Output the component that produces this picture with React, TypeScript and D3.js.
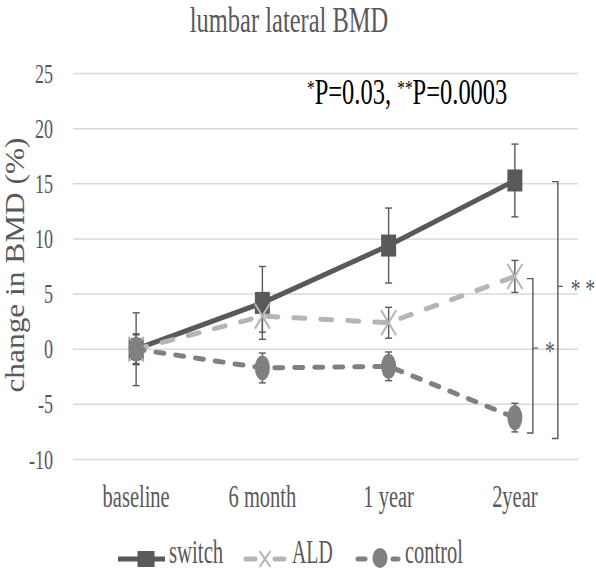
import React from "react";
import * as d3 from "d3";

const categories = ["baseline", "6 month", "1 year", "2year"];
const yTicks = [-10, -5, 0, 5, 10, 15, 20, 25];
const switchMean = [0, 4.2, 9.4, 15.3];
const switchErr = [3.3, 3.3, 3.4, 3.3];
const aldMean = [0, 3.0, 2.4, 6.6];
const aldErr = [1.3, 1.45, 1.4, 1.45];
const controlMean = [0, -1.7, -1.55, -6.2];
const controlErr = [1.4, 1.35, 1.3, 1.3];
const brackets = [
  { top: 6.4, bottom: -7.6, tick: 0.1, label: "*", dx: 18 },
  { top: 15.2, bottom: -8.1, tick: 5.7, label: "* *", dx: 43 },
];

const W = 596;
const H = 572;
const FONT = "'Liberation Serif','Times New Roman',serif";
const TXT = "#595959";

function T({ x, y, size, sx = 1, anchor = "start", rotate = 0, children }: any) {
  return (
    <text
      transform={`translate(${x},${y})${rotate ? ` rotate(${rotate})` : ""} scale(${sx},1)`}
      fontSize={size}
      textAnchor={anchor}
      fontFamily={FONT}
      fill={TXT}
    >
      {children}
    </text>
  );
}

export default function App() {
  const x = d3.scalePoint<string>().domain(categories).range([73, 578]).padding(0.5);
  const y = d3.scaleLinear().domain([-10, 25]).range([459.5, 73.5]);
  const line = d3
    .line<number>()
    .x((_, i) => x(categories[i]) as number)
    .y((d) => y(d));

  const series = [
    { name: "switch", mean: switchMean, err: switchErr, color: "#595959", dash: undefined, cap: "butt" },
    { name: "ALD", mean: aldMean, err: aldErr, color: "#b5b5b5", dash: "11 16", cap: "round" },
    { name: "control", mean: controlMean, err: controlErr, color: "#808080", dash: "8 12", cap: "round" },
  ];

  const marker = (name: string, cx: number, cy: number, w: number, h: number, color: string, key: any) => {
    if (name === "switch")
      return <rect key={key} x={cx - w / 2} y={cy - h / 2} width={w} height={h} fill={color} />;
    if (name === "ALD")
      return (
        <g key={key} stroke={color} strokeWidth={2}>
          <line x1={cx - w / 2} y1={cy - h / 2} x2={cx + w / 2} y2={cy + h / 2} />
          <line x1={cx - w / 2} y1={cy + h / 2} x2={cx + w / 2} y2={cy - h / 2} />
        </g>
      );
    return <ellipse key={key} cx={cx} cy={cy} rx={w / 2} ry={h / 2} fill={color} />;
  };

  const x2 = x(categories[3]) as number;
  const LY = 559;
  const LT = 563;

  return (
    <svg width={W} height={H} style={{ position: "absolute", left: 0, top: 0, background: "#fff" }}>
      <rect width={W} height={H} fill="#fff" />
      <T x={289} y={32} size={35} sx={0.7} anchor="middle">lumbar lateral BMD</T>

      {yTicks.map((t) => (
        <g key={t}>
          <line x1={73} x2={578} y1={y(t)} y2={y(t)} stroke="#d9d9d9" strokeWidth={1.5} />
          <T x={53} y={y(t) + 9} size={27} sx={0.67} anchor="end">{t}</T>
        </g>
      ))}

      <T x={24} y={265} size={28} sx={1.12} anchor="middle" rotate={-90}>change in BMD (%)</T>

      {categories.map((c) => (
        <T key={c} x={x(c)} y={507} size={32} sx={0.64} anchor="middle">{c}</T>
      ))}

      <text
        transform="translate(307,104) scale(0.7,1)"
        fontSize={35}
        fontFamily={FONT}
        fill="#000"
      >
        <tspan fontSize={22} dy={-9}>*</tspan>
        <tspan dy={9}>P=0.03, </tspan>
        <tspan fontSize={22} dy={-9}>**</tspan>
        <tspan dy={9}>P=0.0003</tspan>
      </text>

      {/* error bars */}
      {series.map((s) =>
        s.mean.map((m, i) => {
          const cx = x(categories[i]) as number;
          const t = y(m + s.err[i]);
          const b = y(m - s.err[i]);
          return (
            <g key={s.name + i} stroke="#595959" strokeWidth={1.4}>
              <line x1={cx} x2={cx} y1={t} y2={b} />
              <line x1={cx - 3.5} x2={cx + 3.5} y1={t} y2={t} />
              <line x1={cx - 3.5} x2={cx + 3.5} y1={b} y2={b} />
            </g>
          );
        })
      )}

      {/* lines and markers */}
      {series.map((s) => (
        <g key={s.name}>
          <path
            d={line(s.mean) as string}
            fill="none"
            stroke={s.color}
            strokeWidth={5}
            strokeDasharray={s.dash}
            strokeLinecap={s.cap as any}
          />
          {s.mean.map((m, i) =>
            marker(s.name, x(categories[i]) as number, y(m), 15, s.name === "switch" ? 22 : 25, s.color, i)
          )}
        </g>
      ))}

      {/* significance brackets */}
      {brackets.map((b, i) => {
        const bx = x2 + b.dx;
        const t = y(b.top);
        const bt = y(b.bottom);
        const mid = y(b.tick);
        return (
          <g key={i}>
            <path
              d={`M${bx - 6},${t} L${bx},${t} L${bx},${bt} L${bx - 6},${bt} M${bx},${mid} L${bx + 5},${mid}`}
              fill="none"
              stroke="#595959"
              strokeWidth={1.4}
            />
            <text
              transform={`translate(${bx + (i === 0 ? 17 : 25)},${mid + 12}) scale(0.7,1)`}
              fontSize={28}
              fontFamily={FONT}
              fill={TXT}
              textAnchor="middle"
            >
              {b.label}
            </text>
          </g>
        );
      })}

      {/* legend */}
      <g>
        <line x1={118} x2={165} y1={LY} y2={LY} stroke="#595959" strokeWidth={5} />
        {marker("switch", 146, LY, 17, 16, "#595959", "ls")}
        <T x={169} y={LT} size={33} sx={0.63}>switch</T>

        <g stroke="#b5b5b5" strokeWidth={5} strokeLinecap="round">
          <line x1={246} x2={255} y1={LY} y2={LY} />
          <line x1={275} x2={284} y1={LY} y2={LY} />
        </g>
        {marker("ALD", 265, LY, 11, 16, "#b5b5b5", "la")}
        <T x={292} y={LT} size={33} sx={0.6}>ALD</T>

        <g stroke="#808080" strokeWidth={5} strokeLinecap="round">
          <line x1={358} x2={365} y1={LY} y2={LY} />
          <line x1={393} x2={398} y1={LY} y2={LY} />
        </g>
        {marker("control", 380, LY - 1, 15, 20, "#808080", "lc")}
        <T x={405} y={LT} size={33} sx={0.62}>control</T>
      </g>
    </svg>
  );
}
